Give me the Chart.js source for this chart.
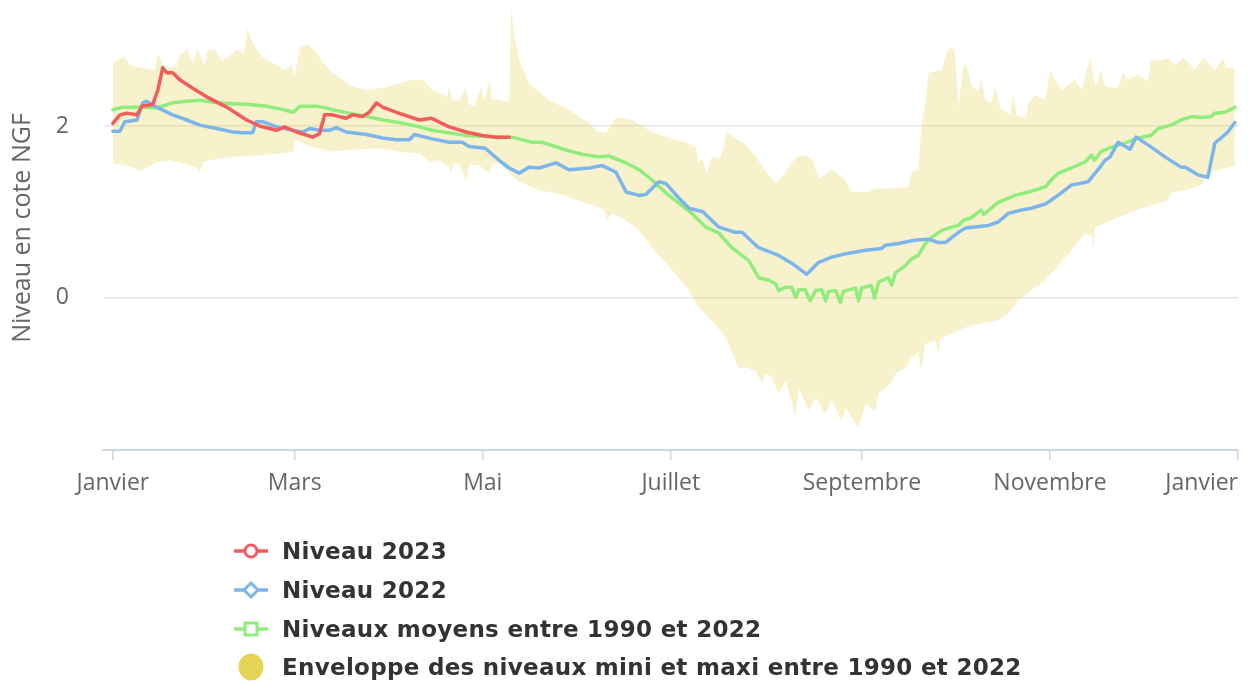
<!DOCTYPE html>
<html><head><meta charset="utf-8">
<script src="https://cdn.jsdelivr.net/npm/chart.js@4"></script>
<style>
html,body{margin:0;padding:0;background:#fff;}
#wrap{position:relative;width:1250px;height:684px;overflow:hidden;}
#c{position:absolute;left:0;top:0;}
#legend{position:absolute;left:234px;top:532px;font-family:"DejaVu Sans",sans-serif;font-weight:bold;font-size:23px;letter-spacing:0.3px;color:#333;}
.item{height:38.7px;display:flex;align-items:center;white-space:nowrap;}
.item svg{margin-right:14px;flex:none;}
</style></head>
<body><div id="wrap"><canvas id="c" width="1250" height="684"></canvas><div id="legend"></div></div>
<script>
// ---------- DATA ----------
const seriesNames = ["Niveau 2023", "Niveau 2022", "Niveaux moyens entre 1990 et 2022", "Enveloppe des niveaux mini et maxi entre 1990 et 2022"];
const yTitle = "Niveau en cote NGF";
const xTickDays = [0, 59, 120, 181, 243, 304, 365];
const xTickLabels = ["Janvier", "Mars", "Mai", "Juillet", "Septembre", "Novembre", "Janvier"];
const yTicks = [0, 2];

// [day of year, level]
const level2023 = [[0,2.03],[2.3,2.13],[4.5,2.15],[7.8,2.13],[9.4,2.23],[12.9,2.25],[14.6,2.42],[16.2,2.68],[17.5,2.62],[19.4,2.62],[21.7,2.54],[25.9,2.44],[30.4,2.34],[36.9,2.22],[43.4,2.07],[47.6,2.0],[53.1,1.95],[55.7,1.99],[59.6,1.93],[64.8,1.87],[67,1.91],[68.7,2.13],[71.2,2.13],[75.7,2.09],[77.7,2.13],[81,2.11],[83.2,2.16],[85.5,2.27],[87.5,2.22],[92,2.16],[99.4,2.07],[103.3,2.09],[109.1,1.99],[114.6,1.93],[119.8,1.89],[124.3,1.87],[128.6,1.87]];

const level2022 = [[0,1.94],[2.3,1.94],[3.9,2.05],[7.8,2.07],[9.7,2.27],[11,2.29],[14.2,2.22],[19.4,2.13],[24,2.07],[28.2,2.01],[33.7,1.97],[38.9,1.93],[42.1,1.92],[45.3,1.92],[46.6,2.05],[48.6,2.05],[53.1,1.99],[58.3,1.95],[61.6,1.93],[63.8,1.97],[67,1.95],[70.3,1.95],[72.5,1.98],[75.7,1.93],[82.3,1.9],[87.5,1.86],[92,1.84],[96.2,1.84],[97.8,1.9],[103.6,1.85],[109.1,1.81],[113.3,1.81],[115.6,1.76],[120.8,1.74],[125.3,1.6],[128.6,1.51],[131.8,1.45],[135,1.52],[138.3,1.51],[143.8,1.57],[148,1.49],[154.5,1.51],[158.6,1.54],[163.2,1.46],[166.5,1.23],[170.7,1.19],[172.9,1.2],[177.1,1.35],[179.4,1.33],[183.6,1.16],[186.9,1.04],[191.4,1.0],[196.6,0.82],[201.8,0.76],[204.1,0.76],[209.5,0.58],[216,0.49],[220.2,0.4],[225.1,0.27],[229,0.41],[233.2,0.47],[237.7,0.51],[244.2,0.55],[249.4,0.57],[250.6,0.61],[254.9,0.63],[260.4,0.67],[264.6,0.68],[267.8,0.64],[270.1,0.64],[274.3,0.76],[276.6,0.81],[284,0.84],[287.2,0.88],[290.5,0.98],[294.7,1.02],[297.9,1.04],[302.5,1.09],[303.4,1.11],[307.7,1.22],[310.9,1.31],[316.4,1.35],[319.6,1.49],[321.9,1.6],[323.5,1.64],[326.1,1.81],[330,1.73],[331.9,1.87],[335.8,1.78],[341.3,1.64],[346.5,1.52],[347.9,1.52],[352,1.43],[355.2,1.4],[357.5,1.8],[359.5,1.86],[361.7,1.93],[364,2.04]];

const levelMean = [[0,2.19],[3.2,2.22],[6.5,2.22],[9.7,2.22],[14.2,2.21],[19.4,2.27],[24,2.29],[28.2,2.3],[33.7,2.27],[38.9,2.26],[44.4,2.25],[49.9,2.23],[55.4,2.19],[58.6,2.16],[60.6,2.23],[66.1,2.23],[69.3,2.21],[71.2,2.19],[76.7,2.15],[82.3,2.11],[87.7,2.07],[92.9,2.04],[99.4,1.99],[103.6,1.95],[109.1,1.92],[114.6,1.89],[119.8,1.88],[125.3,1.87],[129.5,1.87],[136,1.81],[139.2,1.81],[147,1.72],[152.2,1.67],[157.7,1.64],[160.9,1.65],[166.5,1.57],[170.7,1.49],[174.9,1.37],[179.4,1.22],[183.6,1.1],[187.8,0.98],[190.1,0.9],[192.4,0.82],[196.6,0.75],[200.8,0.58],[206.3,0.43],[209.5,0.23],[212.8,0.2],[215,0.16],[216,0.08],[218.3,0.12],[220.2,0.12],[221.5,0.0],[222.5,0.09],[224.6,0.09],[226.2,-0.04],[228,0.08],[230,0.09],[231.2,-0.04],[232.2,0.07],[234.5,0.08],[236,-0.06],[237,0.07],[240.9,0.11],[241.9,-0.04],[242.9,0.11],[246.1,0.14],[247.1,-0.01],[248.4,0.18],[251.6,0.23],[252.6,0.14],[253.9,0.29],[257.1,0.37],[259.1,0.45],[261.3,0.49],[263.6,0.63],[265.6,0.7],[268.8,0.78],[272,0.82],[274.3,0.84],[275.9,0.9],[278.5,0.93],[281.7,1.02],[282.5,0.97],[287.2,1.11],[292.7,1.19],[297,1.23],[302.5,1.29],[304.4,1.37],[306.7,1.45],[310.9,1.51],[315.4,1.58],[317.4,1.66],[318.4,1.6],[320.6,1.7],[323.8,1.75],[328.3,1.8],[332.6,1.86],[336.8,1.89],[339.1,1.97],[343.3,2.01],[346.5,2.07],[349.8,2.11],[353.1,2.1],[356.3,2.11],[357.5,2.15],[360.8,2.16],[364,2.22]];

const envelopeMax = [[0,2.74],[3.9,2.81],[5.5,2.71],[9.7,2.68],[13.6,2.65],[14.6,2.85],[16.8,2.68],[20.7,2.69],[21.7,2.83],[24,2.89],[25.9,2.74],[27.5,2.89],[29.8,2.71],[30.8,2.89],[33,2.89],[35.6,2.77],[37.2,2.8],[40.2,2.89],[42.5,2.85],[43.7,3.15],[45.3,2.97],[48.6,2.8],[51.8,2.74],[55.7,2.65],[58,2.71],[58.9,2.56],[60.6,2.91],[63.1,2.95],[65.4,2.89],[68,2.75],[71.2,2.62],[77.7,2.46],[82.3,2.42],[88.7,2.45],[92.9,2.5],[97.2,2.54],[100.4,2.54],[103.6,2.42],[108.5,2.34],[109.1,2.48],[110,2.3],[112.4,2.3],[114.6,2.44],[115.5,2.26],[117.2,2.22],[119.5,2.46],[120.5,2.3],[122.1,2.54],[123,2.32],[125.3,2.3],[128.6,2.28],[129.2,3.36],[130.5,3.0],[131.8,2.77],[135,2.5],[141.5,2.3],[148,2.19],[154.5,2.03],[157.7,1.93],[160,1.92],[163.2,2.1],[168.4,2.07],[173.9,1.95],[179.4,1.87],[186.9,1.8],[189.1,1.75],[190.1,1.57],[191.2,1.62],[192.7,1.45],[194.3,1.64],[197,1.62],[199.2,1.92],[201.5,1.87],[204.7,1.8],[207.9,1.68],[212.2,1.45],[215.3,1.33],[218.6,1.49],[221.8,1.64],[225.1,1.66],[227,1.6],[229,1.38],[233.2,1.49],[237.7,1.37],[239.6,1.23],[245.1,1.23],[247.4,1.27],[252.6,1.27],[258.1,1.29],[259.1,1.46],[261.3,1.49],[262.3,1.99],[263.6,2.27],[264.6,2.62],[268.8,2.65],[270.4,2.85],[272,2.93],[273.3,2.83],[274.3,2.22],[275.9,2.69],[276.9,2.71],[278.5,2.48],[280.8,2.4],[281.7,2.56],[283,2.3],[285,2.27],[286.3,2.46],[287.9,2.21],[291.1,2.13],[292.1,2.38],[293.1,2.13],[296,2.09],[297,2.27],[299.2,2.36],[302.5,2.3],[304.1,2.65],[305.7,2.54],[307.7,2.42],[312.2,2.54],[314.2,2.42],[317,2.8],[318.7,2.46],[320.6,2.65],[321.9,2.46],[326.1,2.44],[327.7,2.63],[329.3,2.54],[332.6,2.6],[335.8,2.52],[336.8,2.77],[340,2.77],[342.3,2.79],[344.6,2.71],[347.2,2.79],[348.8,2.75],[351,2.65],[353.6,2.79],[355.2,2.75],[357.5,2.65],[360.1,2.79],[361.1,2.68],[364,2.68]];

const envelopeMin = [[0,1.57],[6.5,1.52],[8.7,1.46],[13.6,1.57],[18.5,1.6],[24,1.55],[27.2,1.52],[28.2,1.46],[29.2,1.58],[31.4,1.6],[38.9,1.64],[48.6,1.66],[54.1,1.68],[58.3,1.7],[59.3,1.84],[63.8,1.76],[71.2,1.7],[76.7,1.72],[86.5,1.74],[92.9,1.7],[99.4,1.68],[102.7,1.58],[105.9,1.6],[109.1,1.52],[109.8,1.46],[110.6,1.56],[112.4,1.56],[114.6,1.35],[115.6,1.55],[118.8,1.54],[122.1,1.45],[123.2,1.56],[125.3,1.57],[128.6,1.45],[131.8,1.35],[138.3,1.25],[144.8,1.21],[151.2,1.13],[157.7,1.05],[159.3,1.02],[160.3,0.9],[161.9,0.98],[166.5,0.9],[170.7,0.78],[174.9,0.58],[179.4,0.4],[183.6,0.23],[186.9,0.08],[190.1,-0.12],[194.3,-0.27],[198.8,-0.47],[203,-0.82],[205.3,-0.82],[208.5,-0.85],[210.5,-1.0],[211.8,-0.89],[213.7,-0.93],[216,-1.12],[218.3,-0.97],[221.5,-1.4],[222.5,-1.05],[225.7,-1.32],[228,-1.17],[231.2,-1.36],[233.2,-1.2],[236.4,-1.44],[237.7,-1.29],[241.9,-1.52],[244.2,-1.24],[247.4,-1.32],[248.4,-1.12],[252.6,-1.0],[253.9,-0.89],[257.1,-0.82],[259.1,-0.7],[261.3,-0.66],[262.3,-0.85],[263.6,-0.54],[266.8,-0.5],[267.8,-0.66],[268.8,-0.47],[272,-0.42],[276.6,-0.35],[281.7,-0.3],[287.2,-0.27],[290.5,-0.19],[293.7,-0.04],[297.9,0.08],[302.5,0.2],[306.7,0.37],[310.9,0.55],[315.4,0.75],[317.5,0.72],[318,0.58],[318.7,0.82],[324.1,0.9],[331.9,1.02],[342.3,1.13],[343.3,1.22],[347.9,1.25],[353.1,1.31],[355.2,1.45],[358.5,1.49],[364,1.54]];

// ---------- STYLE ----------
const C_RED = '#f45b5b', C_BLUE = '#7cb5ec', C_GREEN = '#90ed7d', C_ENV = '#e4d354';
const AXIS_FONT = '"Open Sans", sans-serif';

const toPts = arr => arr.map(p => ({x: p[0], y: p[1]}));
const lineDs = (label, data, color) => ({
  label, data: toPts(data), borderColor: color, backgroundColor: color,
  borderWidth: 3.5, pointRadius: 0, fill: false, tension: 0,
  borderJoinStyle: 'round', borderCapStyle: 'round'
});

const xLabels = {
  id: 'xLabels',
  afterDraw(chart) {
    const ctx = chart.ctx, x = chart.scales.x;
    ctx.save();
    ctx.font = '23px ' + AXIS_FONT;
    ctx.fillStyle = '#666666';
    ctx.textBaseline = 'middle';
    xTickDays.forEach((d, i) => {
      const px = x.getPixelForValue(d);
      const w = ctx.measureText(xTickLabels[i]).width;
      if (px + w / 2 > chart.width - 8) { ctx.textAlign = 'right'; ctx.fillText(xTickLabels[i], px, x.bottom + 23); }
      else { ctx.textAlign = 'center'; ctx.fillText(xTickLabels[i], px, x.bottom + 23); }
    });
    ctx.restore();
  }
};

new Chart(document.getElementById('c'), {
  type: 'line',
  data: {
    datasets: [
      lineDs(seriesNames[0], level2023, C_RED),
      lineDs(seriesNames[1], level2022, C_BLUE),
      lineDs(seriesNames[2], levelMean, C_GREEN),
      { label: seriesNames[3], data: toPts(envelopeMax), borderColor: 'rgba(0,0,0,0)', borderWidth: 0,
        backgroundColor: 'rgba(228,211,84,0.3)', pointRadius: 0, fill: '+1', tension: 0 },
      { label: 'min', data: toPts(envelopeMin), borderColor: 'rgba(0,0,0,0)', borderWidth: 0,
        backgroundColor: 'rgba(0,0,0,0)', pointRadius: 0, fill: false, tension: 0 }
    ]
  },
  options: {
    responsive: false, animation: false, devicePixelRatio: 1,
    layout: { padding: { left: 0, right: 12, top: 6, bottom: 224 } },
    plugins: { legend: { display: false }, tooltip: { enabled: false } },
    scales: {
      x: {
        type: 'linear', min: -3.2, max: 365,
        afterBuildTicks: s => { s.ticks = xTickDays.map(v => ({ value: v })); },
        ticks: { display: false },
        grid: { drawOnChartArea: false, drawTicks: true, tickLength: 10, color: '#ccd6eb', lineWidth: 1.5 },
        border: { color: '#ccd6eb', width: 2 },
        afterFit: s => { s.height = 10; s.paddingLeft = 0; s.paddingRight = 0; }
      },
      y: {
        min: -1.78, max: 3.4,
        afterBuildTicks: s => { s.ticks = yTicks.map(v => ({ value: v })); },
        ticks: { font: { family: AXIS_FONT, size: 23 }, color: '#666666', padding: 34 },
        grid: { color: '#e6e6e6', lineWidth: 1.5, drawTicks: false },
        border: { display: false },
        title: { display: true, text: yTitle, color: '#666666', font: { family: AXIS_FONT, size: 25 }, padding: { top: 8, bottom: 0 } },
        afterFit: s => { s.width = 103; s.paddingTop = 0; s.paddingBottom = 0; }
      }
    }
  },
  plugins: [xLabels]
});

// ---------- HTML legend ----------
const legendEl = document.getElementById('legend');
const markers = [
  c => `<circle cx="17" cy="14" r="6" fill="#fff" stroke="${c}" stroke-width="3"/>`,
  c => `<path d="M17 7 L24 14 L17 21 L10 14 Z" fill="#fff" stroke="${c}" stroke-width="3"/>`,
  c => `<rect x="11" y="8" width="12" height="12" fill="#fff" stroke="${c}" stroke-width="3"/>`
];
const colors = [C_RED, C_BLUE, C_GREEN];
seriesNames.forEach((name, i) => {
  const row = document.createElement('div');
  row.className = 'item';
  let svg;
  if (i < 3) {
    svg = `<svg width="34" height="28"><line x1="0" y1="14" x2="34" y2="14" stroke="${colors[i]}" stroke-width="3.5"/>${markers[i](colors[i])}</svg>`;
  } else {
    svg = `<svg width="34" height="28"><ellipse cx="17" cy="14" rx="12.5" ry="13.5" fill="${C_ENV}"/></svg>`;
  }
  row.innerHTML = svg + '<span></span>';
  row.querySelector('span').textContent = name;
  legendEl.appendChild(row);
});
</script>
</body></html>
